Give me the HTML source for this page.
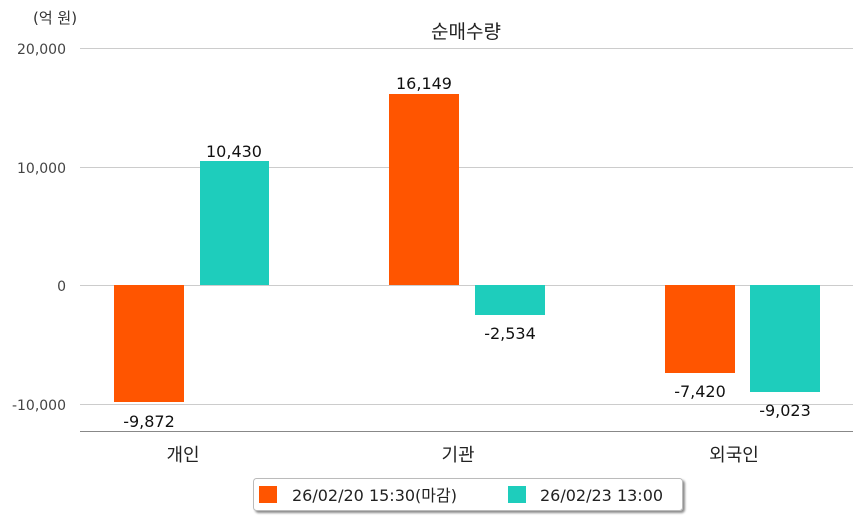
<!DOCTYPE html>
<html><head><meta charset="utf-8"><style>
html,body{margin:0;padding:0;background:#fff;}
svg{display:block;font-family:"DejaVu Sans","Noto Sans CJK KR",sans-serif;}
</style></head><body>
<svg width="863" height="520" viewBox="0 0 863 520">
<defs><filter id="sh" x="-5%" y="-20%" width="110%" height="150%"><feDropShadow dx="2" dy="2" stdDeviation="1" flood-color="#000" flood-opacity="0.45"/></filter></defs>
<text x="33" y="23" font-size="15" fill="#333">(억 원)</text>
<text x="466" y="38" font-size="19" fill="#222" text-anchor="middle">순매수량</text>
<g stroke="#ccc" stroke-width="1">
<line x1="80" y1="48.5" x2="853" y2="48.5"/>
<line x1="80" y1="167.5" x2="853" y2="167.5"/>
<line x1="80" y1="285.5" x2="853" y2="285.5"/>
<line x1="80" y1="404.5" x2="853" y2="404.5"/>
</g>
<line x1="80" y1="431.5" x2="853" y2="431.5" stroke="#888" stroke-width="1"/>
<g font-size="14" fill="#444" text-anchor="end">
<text x="66" y="54">20,000</text>
<text x="66" y="173">10,000</text>
<text x="66" y="291">0</text>
<text x="66" y="410">-10,000</text>
</g>
<g fill="#ff5500">
<rect x="114" y="285" width="70" height="117"/>
<rect x="389" y="94" width="70" height="191"/>
<rect x="665" y="285" width="70" height="88"/>
</g>
<g fill="#1ecdbc">
<rect x="200" y="161" width="69" height="124"/>
<rect x="475" y="285" width="70" height="30"/>
<rect x="750" y="285" width="70" height="107"/>
</g>
<g font-size="16" fill="#111" text-anchor="middle">
<text x="149" y="427">-9,872</text>
<text x="234" y="157">10,430</text>
<text x="424" y="89">16,149</text>
<text x="510" y="339">-2,534</text>
<text x="700" y="397">-7,420</text>
<text x="785" y="416">-9,023</text>
</g>
<g font-size="18" fill="#222" text-anchor="middle">
<text x="183" y="461">개인</text>
<text x="458" y="461">기관</text>
<text x="734" y="461">외국인</text>
</g>
<rect x="253.5" y="478.5" width="429" height="32" rx="3" fill="#fff" stroke="#bbb" filter="url(#sh)"/>
<rect x="259" y="486" width="18" height="17" fill="#ff5500"/>
<rect x="508" y="486" width="18" height="17" fill="#1ecdbc"/>
<g font-size="16" fill="#222">
<text x="292" y="501">26/02/20 15:30(마감)</text>
<text x="540" y="501">26/02/23 13:00</text>
</g>
</svg>
</body></html>
